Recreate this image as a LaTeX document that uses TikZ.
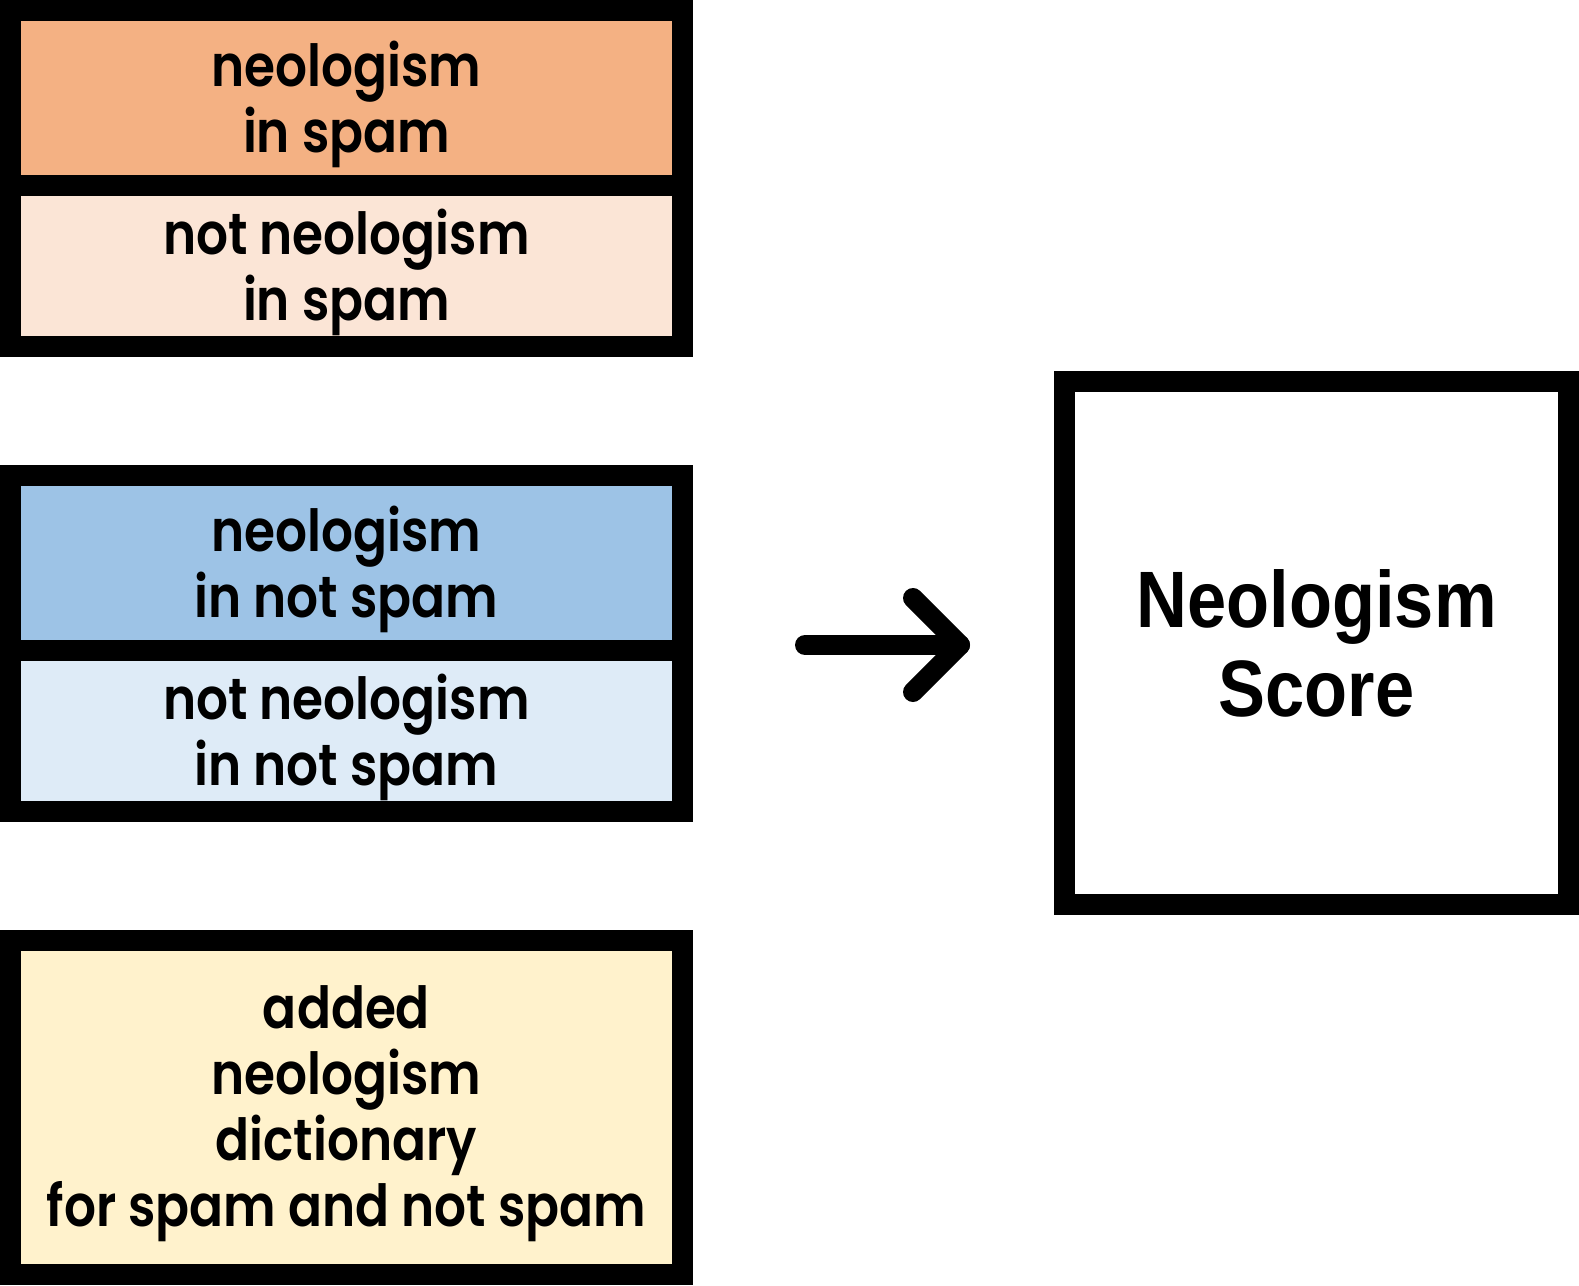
\documentclass[tikz,border=0pt]{standalone}
\usepackage{fontspec}
\setmainfont{Poppins}[FakeStretch=0.865, BoldFont={* SemiBold}]
\newfontfamily\scorefont{Liberation Sans}[FakeStretch=0.88]
\usetikzlibrary{calc}
\definecolor{corange}{HTML}{F4B183}
\definecolor{corangel}{HTML}{FBE5D6}
\definecolor{cblue}{HTML}{9DC3E6}
\definecolor{cbluel}{HTML}{DEEBF7}
\definecolor{cyellow}{HTML}{FFF2CC}
\tikzset{
  frame/.style={fill=black, anchor=north west, inner sep=0pt, outer sep=0pt},
  cell/.style={anchor=north west, inner sep=0pt, outer sep=0pt, minimum width=651pt},
  celltext/.style={inner sep=0pt, align=center, yshift=-6pt,
    font=\fontsize{58}{66}\selectfont\bfseries},
  arrowline/.style={line width=20pt, line cap=round, line join=round}
}
\begin{document}
\begin{tikzpicture}[x=1pt,y=-1pt]
\useasboundingbox[fill=white] (0,0) rectangle (1579,1285);
% group 1
\node[frame, minimum width=693pt, minimum height=357pt] (g1) at (0,0) {};
\node[cell, fill=corange, minimum height=154pt] (c1) at (21,21) {};
\node[celltext] (t1) at (c1.center) {neologism\\in spam};
\node[cell, fill=corangel, minimum height=140pt] (c2) at (21,196) {};
\node[celltext] (t2) at (c2.center) {not neologism\\in spam};
% group 2
\node[frame, minimum width=693pt, minimum height=357pt] (g2) at (0,465) {};
\node[cell, fill=cblue, minimum height=154pt] (c3) at (21,486) {};
\node[celltext] (t3) at (c3.center) {neologism\\in not spam};
\node[cell, fill=cbluel, minimum height=140pt] (c4) at (21,661) {};
\node[celltext] (t4) at (c4.center) {not neologism\\in not spam};
% group 3
\node[frame, minimum width=693pt, minimum height=355pt] (g3) at (0,930) {};
\node[cell, fill=cyellow, minimum height=313pt] (c5) at (21,951) {};
\node[celltext] (t5) at (c5.center) {added\\neologism\\dictionary\\for spam and not spam};
% score
\node[frame, minimum width=525pt, minimum height=544pt] (sf) at (1054,371) {};
\node[fill=white, anchor=north west, inner sep=0pt, minimum width=483pt, minimum height=502pt, align=center,
  font=\scorefont\fontsize{80}{89}\selectfont\bfseries] (score) at (1075,392) {Neologism\\Score};
% arrow
\coordinate (tip) at (960,645);
\draw[arrowline] (g2.east |- tip) ++(112,0) coordinate (tail) -- (tip);
\draw[arrowline] ($(tip)+(-47,-47)$) -- (tip) -- ($(tip)+(-47,47)$);
\end{tikzpicture}
\end{document}
